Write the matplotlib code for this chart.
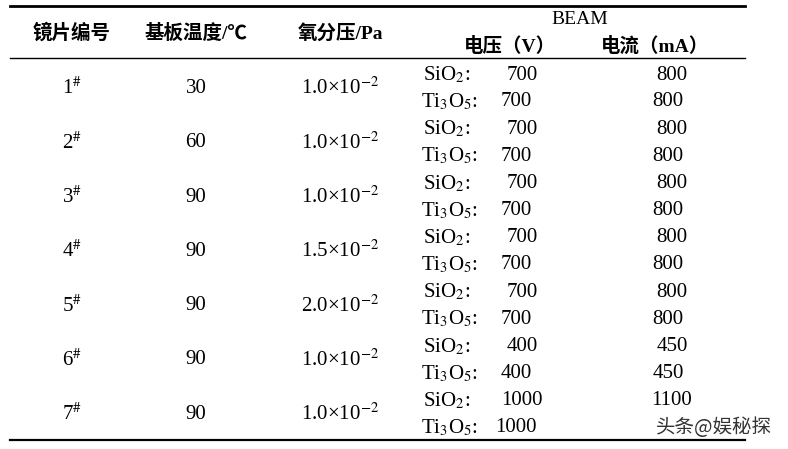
import matplotlib
matplotlib.use("Agg")
import matplotlib.pyplot as plt

plt.rcParams['font.family'] = ['Liberation Serif', 'Noto Sans CJK SC']
plt.rcParams['mathtext.fontset'] = 'stix'

headers = ["镜片编号", "基板温度/℃", "氧分压/Pa"]
samples = ["1", "2", "3", "4", "5", "6", "7"]
temps = [30, 60, 90, 90, 90, 90, 90]
pressures = ["1.0", "1.0", "1.0", "1.5", "2.0", "1.0", "1.0"]
sio2_v = [700, 700, 700, 700, 700, 400, 1000]
sio2_i = [800, 800, 800, 800, 800, 450, 1100]
ti_v = [700, 700, 700, 700, 700, 400, 1000]
ti_i = [800, 800, 800, 800, 800, 450, None]
watermark = "头条@娱秘探"

fig = plt.figure(figsize=(7.88, 4.49), dpi=100)
ax = fig.add_axes([0, 0, 1, 1])
ax.set_xlim(0, 788); ax.set_ylim(449, 0); ax.axis('off')

fs = 15
ax.plot([10, 745], [6, 6], color='black', lw=2)
ax.plot([10, 745], [58, 58], color='black', lw=1)
ax.plot([10, 745], [440, 440], color='black', lw=1.6)

hx = [72, 196, 340]
for x, h in zip(hx, headers):
    ax.text(x, 33, h, ha='center', va='center', fontsize=14, weight='bold')
ax.text(580, 19, "BEAM", ha='center', va='center', fontsize=14)
ax.text(510, 46, "电压（V）", ha='center', va='center', fontsize=14, weight='bold')
ax.text(655, 46, "电流（mA）", ha='center', va='center', fontsize=14, weight='bold')

for k in range(len(samples)):
    y1 = 75 + k * 54.3
    y2 = y1 + 27
    ym = (y1 + y2) / 2
    ax.text(72, ym, samples[k] + r"$^{\#}$", ha='center', va='center', fontsize=fs)
    ax.text(196, ym, str(temps[k]), ha='center', va='center', fontsize=fs)
    ax.text(340, ym, pressures[k] + r"×10$^{\mathrm{-2}}$", ha='center', va='center', fontsize=fs)
    ax.text(423, y1, r"SiO$_2$:", ha='left', va='center', fontsize=fs)
    ax.text(421, y2, r"Ti$_3$O$_5$:", ha='left', va='center', fontsize=fs)
    ax.text(522, y1, str(sio2_v[k]), ha='center', va='center', fontsize=fs)
    ax.text(516, y2, str(ti_v[k]), ha='center', va='center', fontsize=fs)
    ax.text(672, y1, str(sio2_i[k]), ha='center', va='center', fontsize=fs)
    if ti_i[k] is not None:
        ax.text(668, y2, str(ti_i[k]), ha='center', va='center', fontsize=fs)
    else:
        ax.text(714, y2, watermark, ha='center', va='center', fontsize=14,
                color='#333333', family=['Noto Sans CJK SC', 'DejaVu Sans'])

fig.savefig("out.png", dpi=100, facecolor='white')
